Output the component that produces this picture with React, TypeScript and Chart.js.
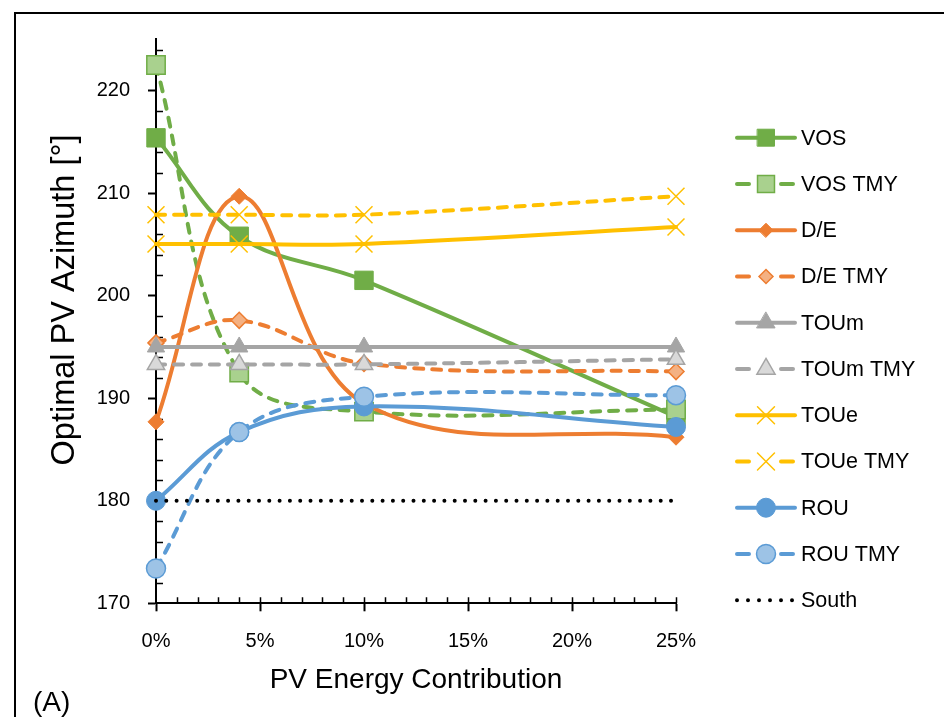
import React, { useEffect, useRef } from 'react';
import { Chart, registerables } from 'chart.js';
import { drawPoint } from 'chart.js/helpers';

Chart.register(...registerables);

const FONT = "'Liberation Sans', Arial, sans-serif";

const xValues = [0, 4, 10, 25];
const vos = [215.4, 205.8, 201.5, 188.2];
const vosTmy = [222.5, 192.5, 188.7, 188.9];
const de = [187.7, 209.7, 189.5, 186.2];
const deTmy = [195.4, 197.6, 193.4, 192.6];
const toum = [195.0, 195.0, 195.0, 195.0];
const toumTmy = [193.3, 193.3, 193.3, 193.8];
const toue = [205.05, 205.05, 205.05, 206.7];
const toueTmy = [207.9, 207.9, 207.9, 209.7];
const rou = [180.0, 186.7, 189.2, 187.2];
const rouTmy = [173.4, 186.7, 190.15, 190.3];
const southX = [0, 25];
const south = [180, 180];

const seriesLabels = ['VOS', 'VOS TMY', 'D/E', 'D/E TMY', 'TOUm', 'TOUm TMY', 'TOUe', 'TOUe TMY', 'ROU', 'ROU TMY', 'South'];
const yTitle = 'Optimal PV Azimuth [°]';
const xTitle = 'PV Energy Contribution';
const panelLabel = '(A)';

const GREEN = '#70AD47', GREEN_L = '#A9D18E';
const ORANGE = '#ED7D31', ORANGE_L = '#F4B183';
const GRAY = '#A5A5A5', GRAY_L = '#D9D9D9';
const GOLD = '#FFC000';
const BLUE = '#5B9BD5', BLUE_L = '#9DC3E6';

const DASH = [9, 9];
const DOT = [0, 10.3];

type Style = { color: string; dash: number[]; ps: any; r: number; lr: number; fill: string; bc: string; bw: number };

const styles: Style[] = [
  { color: GREEN, dash: [], ps: 'rect', r: 13, lr: 12, fill: GREEN, bc: GREEN, bw: 1 },
  { color: GREEN, dash: DASH, ps: 'rect', r: 13, lr: 12, fill: GREEN_L, bc: GREEN, bw: 1.5 },
  { color: ORANGE, dash: [], ps: 'rectRot', r: 8, lr: 7, fill: ORANGE, bc: ORANGE, bw: 1 },
  { color: ORANGE, dash: DASH, ps: 'rectRot', r: 8, lr: 7, fill: ORANGE_L, bc: ORANGE, bw: 1.5 },
  { color: GRAY, dash: [], ps: 'triangle', r: 10, lr: 10.5, fill: GRAY, bc: GRAY, bw: 1 },
  { color: GRAY, dash: DASH, ps: 'triangle', r: 10, lr: 10.5, fill: GRAY_L, bc: GRAY, bw: 1.5 },
  { color: GOLD, dash: [], ps: 'crossRot', r: 12, lr: 12, fill: GOLD, bc: GOLD, bw: 1.5 },
  { color: GOLD, dash: DASH, ps: 'crossRot', r: 12, lr: 12, fill: GOLD, bc: GOLD, bw: 1.5 },
  { color: BLUE, dash: [], ps: 'circle', r: 9.5, lr: 9.5, fill: BLUE, bc: BLUE, bw: 1 },
  { color: BLUE, dash: DASH, ps: 'circle', r: 9.5, lr: 9.5, fill: BLUE_L, bc: BLUE, bw: 1.5 },
  { color: '#000000', dash: DOT, ps: false, r: 0, lr: 0, fill: '#000', bc: '#000', bw: 0 },
];

const seriesValues = [vos, vosTmy, de, deTmy, toum, toumTmy, toue, toueTmy, rou, rouTmy];

const axisTicksPlugin = {
  id: 'axisTicks',
  beforeDatasetsDraw(chart: any) {
    const ctx = chart.ctx;
    const xs = chart.scales.x;
    const ys = chart.scales.y;
    const x0 = xs.getPixelForValue(0);
    const y0 = ys.getPixelForValue(170);
    ctx.save();
    ctx.strokeStyle = '#000';
    ctx.lineWidth = 1.5;
    ctx.beginPath();
    for (let v = 172; v <= 225; v += 2) {
      if (v % 10 === 0) continue;
      const py = Math.round(ys.getPixelForValue(v)) + 0.5;
      ctx.moveTo(x0, py);
      ctx.lineTo(x0 + 7, py);
    }
    for (let v = 1; v <= 25; v += 1) {
      const px = Math.round(xs.getPixelForValue(v)) + 0.5;
      ctx.moveTo(px, y0);
      ctx.lineTo(px, y0 - 6);
    }
    ctx.stroke();
    ctx.restore();
    // y axis title
    ctx.save();
    ctx.translate(65, 300);
    ctx.rotate(-Math.PI / 2);
    ctx.font = `32.5px ${FONT}`;
    ctx.fillStyle = '#000';
    ctx.textAlign = 'center';
    ctx.textBaseline = 'middle';
    ctx.fillText(yTitle, 0, 0);
    ctx.restore();
  },
};

const legendPlugin = {
  id: 'sideLegend',
  afterDraw(chart: any) {
    const ctx = chart.ctx;
    ctx.save();
    const x1 = 735, x2 = 797, xm = 766, tx = 801;
    const y0 = 137.7, step = 46.25;
    seriesLabels.forEach((label, i) => {
      const s = styles[i];
      const y = y0 + i * step;
      ctx.strokeStyle = s.color;
      ctx.lineCap = 'round';
      ctx.lineWidth = 4;
      ctx.setLineDash([]);
      ctx.beginPath();
      if (i === 10) {
        ctx.setLineDash([0, 11]);
        ctx.moveTo(737, y);
        ctx.lineTo(793, y);
      } else if (s.dash.length) {
        ctx.moveTo(x1 + 2, y);
        ctx.lineTo(x1 + 14, y);
        ctx.moveTo(x2 - 16, y);
        ctx.lineTo(x2 - 4, y);
      } else {
        ctx.moveTo(x1 + 2, y);
        ctx.lineTo(x2 - 2, y);
      }
      ctx.stroke();
      ctx.setLineDash([]);
      if (s.ps) {
        ctx.fillStyle = s.fill;
        ctx.strokeStyle = s.bc;
        ctx.lineWidth = s.bw;
        drawPoint(ctx, { pointStyle: s.ps, rotation: 0, radius: s.lr, borderWidth: s.bw } as any, xm, y);
      }
      ctx.fillStyle = '#000';
      ctx.font = `21.5px ${FONT}`;
      ctx.textAlign = 'left';
      ctx.textBaseline = 'middle';
      ctx.fillText(label, tx, y + 1);
    });
    ctx.font = `28px ${FONT}`;
    ctx.textBaseline = 'alphabetic';
    ctx.fillText(panelLabel, 33, 711);
    ctx.restore();
  },
};

export default function App() {
  const ref = useRef<HTMLCanvasElement>(null);
  useEffect(() => {
    if (!ref.current) return;
    const datasets: any[] = seriesValues.map((vals, i) => {
      const s = styles[i];
      return {
        label: seriesLabels[i],
        data: xValues.map((x, j) => ({ x, y: vals[j] })),
        borderColor: s.color,
        borderWidth: 4,
        borderDash: s.dash,
        borderCapStyle: 'round',
        tension: 0.38,
        fill: false,
        clip: false,
        pointStyle: s.ps,
        pointRadius: s.r,
        pointBackgroundColor: s.fill,
        pointBorderColor: s.bc,
        pointBorderWidth: s.bw,
        order: -i,
      };
    });
    datasets.push({
      label: seriesLabels[10],
      data: southX.map((x, j) => ({ x, y: south[j] })),
      borderColor: '#000',
      borderWidth: 4,
      borderDash: DOT,
      borderCapStyle: 'round',
      pointRadius: 0,
      fill: false,
      clip: false,
      order: -10,
    });
    const chart = new Chart(ref.current, {
      type: 'line',
      data: { datasets },
      options: {
        animation: false,
        responsive: false,
        devicePixelRatio: 1,
        layout: { padding: { left: 0, top: 39.4, right: 268, bottom: 717 - 603.3 - 94 } },
        plugins: { legend: { display: false }, tooltip: { enabled: false } },
        scales: {
          x: {
            type: 'linear',
            min: 0,
            max: 25,
            ticks: {
              stepSize: 5,
              callback: (v: any) => v + '%',
              font: { family: FONT, size: 20 },
              color: '#000',
              padding: 18,
              maxRotation: 0,
              autoSkip: false,
            },
            grid: { display: true, drawOnChartArea: false, drawTicks: true, tickLength: 8, tickColor: '#000', tickWidth: 2 },
            border: { display: true, color: '#000', width: 2 },
            title: { display: true, text: xTitle, font: { family: FONT, size: 28 }, color: '#000', padding: 0 },
            afterFit: (s: any) => { s.height = 94; },
          },
          y: {
            type: 'linear',
            min: 170,
            max: 225,
            ticks: {
              stepSize: 10,
              includeBounds: false,
              font: { family: FONT, size: 20 },
              color: '#000',
              padding: 18,
            },
            grid: { display: true, drawOnChartArea: false, drawTicks: true, tickLength: 8, tickColor: '#000', tickWidth: 2 },
            border: { display: true, color: '#000', width: 2 },
            title: { display: false },
            afterFit: (s: any) => { s.width = 156; },
          },
        },
      } as any,
      plugins: [axisTicksPlugin, legendPlugin],
    });
    return () => chart.destroy();
  }, []);
  return (
    <div style={{ position: 'absolute', left: 0, top: 0, width: 944, height: 717, background: '#fff', overflow: 'hidden' }}>
      <div style={{ position: 'absolute', left: 14, top: 12, width: 944, height: 717, borderTop: '2.5px solid #000', borderLeft: '2.5px solid #000', boxSizing: 'border-box' }} />
      <canvas ref={ref} width={944} height={717} style={{ position: 'absolute', left: 0, top: 0, width: 944, height: 717 }} />
    </div>
  );
}
